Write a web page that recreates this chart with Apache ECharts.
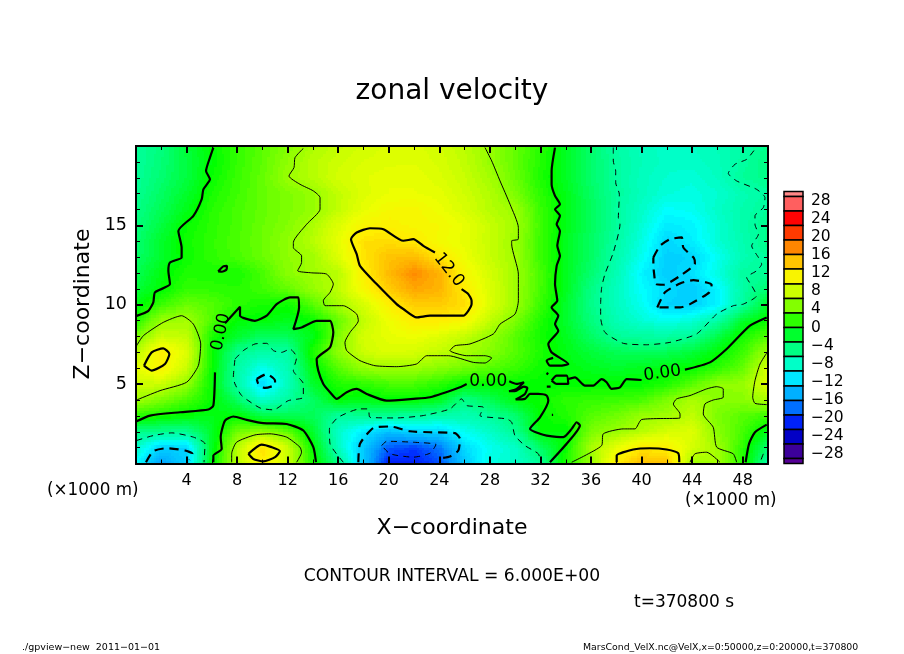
<!DOCTYPE html>
<html>
<head>
<meta charset="utf-8">
<script src="https://cdn.jsdelivr.net/npm/echarts@6/dist/echarts.min.js"></script>
<style>
html, body { margin: 0; padding: 0; background: #ffffff; }
#main { width: 904px; height: 654px; }
</style>
</head>
<body>
<div id="main"></div>
<script>
// velocity, one row per height, x every 2 km
const fieldX = [0, 2, 4, 6, 8, 10, 12, 14, 16, 18, 20, 22, 24, 26, 28, 30, 32, 34, 36, 38, 40, 42, 44, 46, 48, 50];
const fieldZ = [20, 19, 18, 17, 16, 15, 14, 13, 12, 11, 10, 9, 8, 7, 6, 5, 4, 3, 2, 1, 0];
const fieldRows = [
    [-5.8, -4.5, -2, 0, 1.8, 3.2, 4.8, 6.5, 7.6, 8.3, 8.9, 9, 8.3, 7.2, 5.6, 3.5, 1.5, -1.2, -3.7, -6.2, -7.5, -8, -7.8, -7.2, -6.3, -5],
    [-5.8, -4.3, -2.2, -0.2, 1.8, 3.3, 5.3, 7.1, 8.1, 8.8, 9.1, 9.2, 8.6, 7.5, 5.6, 3.5, 1.2, -1.3, -3.7, -6, -7.2, -8, -8, -7.4, -6, -4.8],
    [-5.7, -4, -2.2, 0.2, 2, 3.5, 5.8, 7, 8.4, 9.2, 9.6, 9.6, 8.9, 7.8, 6.2, 3.8, 1, -1.2, -3.8, -5.9, -7.5, -8.3, -8.6, -7.7, -5.7, -5],
    [-5.4, -3.5, -1.5, 0.8, 2.2, 3.5, 4.5, 5.6, 7.5, 9, 9.8, 9.8, 9.5, 8.2, 6.8, 4.5, 1.5, -0.8, -3.5, -5.8, -7.5, -8.7, -9, -8.3, -7, -6],
    [-5, -3, -0.8, 1.3, 2.5, 3.5, 4.5, 5.5, 7.5, 9.6, 10.8, 11, 10, 8.7, 7, 5.8, 2, -0.8, -3.2, -5.9, -8, -10, -9.5, -8, -6.6, -5.7],
    [-4.5, -2.3, 0.2, 1.5, 2.5, 3.7, 4.8, 6.5, 9, 11.2, 11.6, 11, 10.8, 9.7, 7.8, 6.2, 2.2, -0.8, -3.2, -5.8, -8.5, -11, -10.5, -8.5, -6.5, -5.2],
    [-4, -1.5, 0.5, 1.6, 2.7, 3.8, 5.3, 7, 9.5, 12.8, 13, 12.2, 10.5, 9.5, 7.8, 5.8, 2, -1, -3.5, -6.1, -9, -12.1, -10.8, -8.5, -6.8, -5],
    [-3.8, -1.5, 0.4, 1.6, 2.5, 3.7, 5.2, 6, 9, 12.6, 14.5, 15, 12.5, 10, 7.8, 6, 2, -1, -3.5, -6.5, -9.5, -12.5, -12.2, -9.5, -7, -5.6],
    [-3, -0.5, 1, 0.8, 0.7, 2.5, 5, 6, 7, 11.7, 15, 17.5, 15.5, 11, 8.5, 6.1, 2.5, -1, -4, -7, -10.5, -12.7, -11.5, -9, -6, -5.5],
    [-2, -0.2, 1.8, 1.6, 1.3, 2.2, 3.5, 5.5, 7.3, 11, 14, 16.2, 15.5, 12, 8.8, 6, 2.4, -1, -4.8, -7.5, -10, -11.8, -12.8, -10.5, -6.2, -4],
    [-0.8, 2, 3.8, 3, 1.5, 0.7, 0.3, 3, 6.3, 8.5, 11.8, 14, 14, 13, 9, 6, 2, -1.5, -5, -7.5, -9.5, -12.3, -12.5, -10.5, -6, -1.5],
    [1, 5.7, 6.2, 2.8, -0.3, -0.2, -1, 0.3, 3.5, 7.5, 10, 12, 12, 11, 7.5, 4.5, 1, -1.5, -4.5, -7, -8.5, -9.5, -8.5, -6.3, -1.5, 0.3],
    [4.5, 8, 7.5, 0.8, -1.5, -3.5, -3, -0.8, 4.5, 8.5, 9.5, 10, 9, 7.5, 5.5, 3, 0.6, -1, -3.5, -5.5, -6, -6, -5.5, -2.5, 0.7, 3],
    [7, 12, 9, 0.4, -5.4, -6.3, -6.2, 1, 5.2, 8, 9, 8.5, 7.5, 6.3, 5, 3, 1, -0.6, -2, -3, -3.2, -3, -2, -0.3, 2, 6],
    [9.5, 11.5, 7.8, 0.4, -6.2, -9.5, -7, -0.5, 3, 5.5, 6, 5.7, 5, 4, 3, 2, 0.4, -0.3, -1, -1.5, -1, -0.5, 0.2, 1.5, 3.5, 8.5],
    [8, 8, 5.5, 0, -6.2, -12, -7.5, -1.5, 1, 1.5, 2.5, 2.5, 1.5, 0, 0, 0, 0, 0, 0, 0, 0, 1, 3, 5.3, 5.5, 9],
    [6, 4.5, 2.5, 0.2, -3.5, -8, -6, -3.5, -0.2, -0.7, -0.1, -0.1, -1, -5, -3, -0.5, 0.3, 1.5, 1.8, 2, 2.5, 4.5, 6.5, 5, 5, 6.5],
    [1.5, 0.5, -0.3, -0.8, 0, -2.5, -3, -3, -6, -5.5, -5.5, -6, -6.5, -7, -5.8, -4, 0, 1, 3, 4, 5.7, 6, 7.5, 4.5, 3, 2],
    [-4.8, -5.2, -5.2, -1.5, 4, 5.5, 3.5, -1.5, -8, -11, -13.5, -12, -12.2, -9.5, -8, -5.5, 0, -0.3, 4.5, 5.7, 7, 8.5, 9, 5, 2.5, -1],
    [-8, -12.5, -12.2, -1.2, 7, 13, 8, 0.1, -7.5, -13, -18.5, -19.5, -17.5, -11.8, -9.5, -8, -3.5, 0.2, 6.3, 9.5, 12.3, 11.7, 8.5, 6, 1.5, -4],
    [-10, -15.5, -12.5, -0.3, 7, 11.8, 8, 0.8, -5, -13, -21, -21, -19, -13, -9, -8, -5.8, 1, 5.5, 12, 15, 14.5, 5.8, 6.3, 1.5, -6.5]
];

// contour lines as [x km, z km]
const contoursThick = [
    [[6.12, 19.9], [5.85, 19.27], [5.54, 18.43], [5.85, 17.9], [5.33, 17.27], [5.2, 16.65], [4.54, 15.6], [3.35, 14.65], [3.61, 13.6], [3.61, 12.98], [2.69, 12.66], [2.56, 12.14], [2.69, 11.3], [1.5, 10.78], [1.37, 10.15], [0.98, 9.62], [0.05, 9.3]],
    [[6.5, 12.1], [6.9, 12.42], [7.2, 12.45], [7.15, 12.2], [6.8, 12.08], [6.5, 12.1]],
    [[0.05, 2.66], [1.11, 3.02], [3.48, 3.23], [5.72, 3.4], [6.12, 3.65], [6.25, 5.74]],
    [[7.04, 8.83], [8.23, 9.87], [8.23, 9.31], [9.41, 8.99], [10.34, 9.31], [11.13, 10.04], [12.18, 10.46], [12.84, 10.46], [12.9, 9.83], [12.45, 8.47], [13.1, 8.57], [14.29, 8.99], [15.35, 8.99], [15.61, 8.26], [15.35, 7.32], [14.29, 6.58], [14.42, 5.85], [14.82, 5.01], [15.35, 4.49], [15.88, 4.07], [16.67, 4.49], [17.46, 4.7], [18.25, 4.38], [19.83, 3.96], [21.94, 4.07], [23.26, 4.17], [25.63, 4.8], [26.16, 5.01]],
    [[29.53, 5.18], [30.11, 5.01], [30.69, 5.12], [30.11, 4.7], [29.51, 4.55], [29.98, 4.55], [30.69, 4.84], [30.96, 4.76], [30.77, 4.38], [30.04, 4.03], [30.77, 4.07], [31.17, 4.38], [31.83, 4.38], [32.49, 4.28], [32.62, 3.96], [31.96, 2.91], [31.17, 2.18], [31.96, 1.87], [32.49, 1.76], [33.81, 1.66], [34.47, 2.18], [34.86, 2.6], [35.12, 2.39], [34.07, 1.24], [32.75, 0.08]],
    [[33.15, 19.9], [32.88, 18.43], [32.88, 17.59], [33.15, 16.86], [33.54, 16.33], [33.15, 16.02], [33.54, 15.6], [33.28, 15.07], [33.54, 14.65], [33.33, 13.71], [33.54, 13.08], [33.28, 12.45], [33.15, 11.3], [33.33, 10.25], [32.88, 9.83], [33.41, 9.31], [33.15, 8.78], [33.41, 8.36], [32.62, 7.53], [32.88, 7], [34.2, 6.27], [33.54, 6.16], [32.75, 6.16], [32.49, 6.48], [33, 6.65]],
    [[32.88, 5.22], [33.28, 5.53], [34.07, 5.53], [34.2, 5.01], [33.28, 5.01], [32.88, 5.22]],
    [[34.2, 5.32], [34.73, 5.43], [35.52, 4.91], [36.18, 4.91], [36.84, 5.32], [37.23, 5.12], [37.63, 4.7], [38.29, 4.8], [38.82, 5.32], [40, 5.26]],
    [[43.43, 5.91], [45.41, 6.37], [46.73, 7.21], [48.57, 8.68], [49.9, 9.2]],
    [[32.49, 5.6], [32.6, 5.72]],
    [[32.5, 4.84], [32.8, 4.84]],
    [[32.9, 3.06], [33, 3.06]],
    [[23.65, 13.29], [22.73, 13.71], [21.94, 14.13], [21.15, 14.03], [19.57, 14.76], [18.51, 14.82], [17.46, 14.55], [17.01, 14.13], [17.46, 13.19], [17.72, 12.45], [19.04, 11.3], [20.62, 10.04], [21.15, 9.73], [22.2, 9.2], [23.26, 9.31], [24.84, 9.31], [25.89, 9.31], [26.55, 10.04], [26.55, 10.25], [26.29, 10.67], [25.76, 10.98]],
    [[0.63, 6.16], [1.24, 7], [2.16, 7.25], [2.64, 6.9], [2.29, 6.27], [1.24, 5.85], [0.63, 6.16]],
    [[6.12, 0.08], [6.12, 0.5], [6.78, 0.92], [6.7, 1.66], [7.04, 2.7], [7.7, 2.96], [8.76, 2.75], [10.07, 2.54], [11.92, 2.49], [13.24, 2.08], [14.03, 1.03], [14.24, 0.08]],
    [[8.89, 0.61], [9.94, 1.19], [10.73, 1.03], [11.39, 0.78], [11, 0.4], [10.07, 0.13], [9.28, 0.29], [8.89, 0.61]],
    [[38.03, 0.08], [38.03, 0.5], [39.34, 0.88], [40.66, 0.96], [41.98, 0.88], [42.9, 0.65], [42.98, 0.08]],
    [[49.9, 2.45], [48.97, 1.97], [48.5, 1.24], [48.23, 0.08]]
];
const contoursThin = [
    [[13.24, 19.85], [12.58, 19.27], [12.5, 18.64], [12.1, 18.11], [12.97, 17.59], [14.03, 17.17], [14.56, 16.75], [14.56, 16.02], [13.5, 15.07], [12.45, 13.92], [12.45, 13.6], [13.1, 13.08], [13.1, 12.66], [12.79, 12.14], [13.9, 12.01], [15.08, 11.93], [15.61, 11.3], [15.35, 10.78], [14.82, 10.25], [14.95, 9.94], [16.4, 9.94], [17.46, 9.41], [17.59, 8.99], [16.93, 8.26], [16.53, 7.63], [16.67, 7.11], [17.72, 6.48], [18.91, 6.16], [20.62, 6.1], [22.2, 6.27], [23, 6.79], [24.71, 6.79], [26.69, 6.37], [27.61, 6.33], [28.14, 6.65], [27.61, 6.79], [26.16, 6.79], [24.84, 7.11], [25.24, 7.42], [26.42, 7.53], [28.27, 8.16], [28.8, 8.78], [29.98, 9.41], [30.25, 10.25], [30.25, 11.93], [29.72, 13.82], [29.72, 14.03], [30.25, 14.13], [30.25, 14.86], [29.59, 16.33], [28.8, 17.8], [28.14, 19.06], [27.61, 19.9]],
    [[0.05, 4], [1.9, 4.59], [4.01, 5.12], [4.93, 6.16], [5.12, 7.53], [4.54, 8.78], [3.61, 9.31], [2.16, 8.89], [0.58, 8.05], [0.05, 7.42]],
    [[7.57, 0.08], [7.57, 0.61], [7.96, 1.34], [9.41, 1.8], [10.6, 1.87], [11.92, 1.66], [12.97, 1.03], [13.1, 0.71], [12.71, 0.08]],
    [[34.47, 0.08], [35.52, 0.5], [36.84, 1.13], [36.97, 1.87], [38.55, 2.18], [39.48, 2.18], [40, 2.77], [43.04, 2.87], [43.04, 3.12], [42.51, 3.75], [42.77, 4.07], [43.83, 4.28], [45.15, 4.7], [45.94, 4.84], [46.46, 4.7], [46.46, 4.17], [45.67, 4], [45.01, 3.75], [44.88, 3.12], [45.67, 2.28], [45.94, 1.03], [47.25, 0.61], [47.52, 0.08]],
    [[43.83, 0.08], [44.22, 0.61], [45.15, 0.71], [46.2, 0.08]],
    [[49.9, 6.96], [49.37, 6.27], [48.97, 5.22], [48.79, 4.17], [48.97, 3.79], [49.9, 3.71]]
];
const contoursThickDash = [
    [[9.55, 5.32], [10.34, 5.64], [11, 5.22], [11, 4.97], [10.21, 4.76], [9.68, 5.01], [9.55, 5.32]],
    [[0.79, 0.08], [1.37, 0.78], [2.43, 0.96], [3.88, 0.82], [4.46, 0.61], [4.22, 0.23]],
    [[17.59, 0.08], [17.72, 1.24], [18.78, 2.24], [20.1, 2.33], [21.68, 2.03], [23.26, 1.97], [25.24, 1.91], [25.63, 1.55], [25.5, 0.82], [24.84, 0.44], [24.3, 0.35]],
    [[40.93, 12.98], [41.45, 13.71], [42.24, 14.13], [43.17, 14.24], [43.3, 13.61], [44.14, 12.94], [44.22, 12.6], [43.04, 11.82], [41.72, 11.26], [41.14, 11.3], [40.98, 12.03], [40.93, 12.56], [40.93, 12.98]],
    [[41.24, 9.83], [41.85, 10.78], [43.04, 11.34], [44.09, 11.55], [45.54, 11.26], [45.36, 10.78], [43.83, 10.04], [43.04, 9.83], [41.24, 9.83]]
];
const contoursThinDash = [
    [[7.83, 6.58], [8.49, 7.11], [9.41, 7.53], [10.34, 7.57], [10.87, 7.11], [11.52, 7], [12.18, 7.21], [12.71, 6.69], [12.45, 5.85], [13.24, 5.01], [13.24, 4.17], [12.05, 3.96], [10.87, 3.38], [9.81, 3.5], [8.36, 4.28], [7.83, 5.01], [7.7, 5.43], [7.83, 6.58]],
    [[0.05, 1.45], [1.37, 1.76], [2.82, 1.93], [4.54, 1.66], [5.46, 1.24], [5.38, 0.08]],
    [[16.4, 0.08], [15.35, 1.24], [15.3, 2.18], [16, 2.91], [17.72, 3.44], [18.38, 3.44], [18.51, 2.91], [20.62, 2.87], [22.73, 3.02], [24.84, 3.44], [25.76, 4.07], [26.16, 3.65], [27.48, 3.54], [27.21, 3.02], [29.32, 2.81], [29.72, 2.6], [29.98, 1.76], [30.77, 1.13], [31.83, 0.61], [32.01, 0.08]],
    [[19.44, 1.13], [19.83, 1.4], [21.94, 1.34], [23.73, 1.19], [23.26, 0.65], [21.94, 0.4], [20.1, 0.61], [19.44, 1.13]],
    [[37.76, 19.9], [37.76, 19.06], [37.95, 18.43], [37.95, 17.69], [38.24, 16.96], [38.16, 15.49], [38.29, 15.07], [37.76, 13.29], [37.1, 11.93], [36.84, 11.09], [36.76, 10.04], [36.76, 9.2], [37.1, 8.26], [38.55, 7.57], [40.4, 7.48], [42.24, 7.63], [44.35, 8.16], [45.94, 9.41], [47.26, 9.94], [48.05, 10.04], [49.1, 10.57], [48.71, 11.2], [48.31, 11.72], [49.1, 12.14], [49.5, 12.56], [49.24, 12.98], [48.71, 13.71], [49.24, 14.44], [48.97, 15.07], [48.97, 15.6], [49.63, 16.12], [49.76, 16.75], [49.1, 17.27], [47.52, 17.8], [46.86, 18.28], [47.39, 18.85], [48.31, 19.16], [48.97, 19.8]],
    [[49.63, 0.61], [49.37, 0.08]]
];
// text, x km, z km, angle in degrees
const contourLabels = [
    ['0.00', 6.72, 8.28, 78],
    ['0.00', 27.87, 5.15, 0],
    ['0.00', 41.64, 5.68, 8],
    ['12.0', 24.76, 12.2, -52]
];

const xMajorTicks = [4, 8, 12, 16, 20, 24, 28, 32, 36, 40, 44, 48];
const xMinorTicks = [2, 6, 10, 14, 18, 22, 26, 30, 34, 38, 42, 46];
const zMajorTicks = [5, 10, 15];
const zMinorTicks = [1, 2, 3, 4, 6, 7, 8, 9, 11, 12, 13, 14, 16, 17, 18, 19];

const colorBarEdges = [30, 28.9, 25.7, 22.5, 19.3, 16.1, 12.9, 9.6, 6.4, 3.2, 0, -3.2, -6.4, -9.6, -12.9, -16.1, -19.3, -22.5, -25.7, -28.9, -30];
const colorBarLabels = [28, 24, 20, 16, 12, 8, 4, 0, -4, -8, -12, -16, -20, -24, -28];
// colours for -30, -28 ... 30
const ramp = ['#5a0096', '#460096', '#2a00a0', '#0000c8', '#0010f0', '#0030ff', '#0068ff', '#0098ff', '#00b8ff', '#00d8ff', '#00ffff',
    '#00ffc8', '#00ffa0', '#00ff70', '#00ff38', '#00ff00', '#38ff00', '#70ff00', '#a0ff00', '#ccff00', '#eeff00',
    '#ffee00', '#ffcc00', '#ffaa00', '#ff8000', '#ff5000', '#ff2000', '#ff0000', '#ff4040', '#ff7070', '#ff9090'];

function rampColor(v) {
    return echarts.color.lerp((v + 30) / 60, ramp);
}

let fieldCells = [];
for (let j = 0; j < fieldZ.length - 1; j++) {
    for (let i = 0; i < fieldX.length - 1; i++) {
        fieldCells.push([fieldX[i], fieldZ[j], fieldX[i + 1], fieldZ[j + 1],
            fieldRows[j][i], fieldRows[j][i + 1], fieldRows[j + 1][i], fieldRows[j + 1][i + 1]]);
    }
}

// shade one grid cell in small steps between its four corner values
function renderCell(params, api) {
    const d = fieldCells[params.dataIndex];
    const p0 = api.coord([d[0], d[1]]);
    const p1 = api.coord([d[2], d[3]]);
    const nx = 10, ny = 6;
    let children = [];
    for (let b = 0; b < ny; b++) {
        const t = (b + 0.5) / ny;
        const y0 = Math.round(p0[1] + (p1[1] - p0[1]) * b / ny);
        const y1 = Math.round(p0[1] + (p1[1] - p0[1]) * (b + 1) / ny);
        for (let a = 0; a < nx; a++) {
            const s = (a + 0.5) / nx;
            const x0 = Math.round(p0[0] + (p1[0] - p0[0]) * a / nx);
            const x1 = Math.round(p0[0] + (p1[0] - p0[0]) * (a + 1) / nx);
            const top = d[4] + (d[5] - d[4]) * s;
            const bot = d[6] + (d[7] - d[6]) * s;
            const v = Math.round((top + (bot - top) * t) * 2) / 2;
            children.push({
                type: 'rect',
                shape: { x: x0, y: y0, width: x1 - x0, height: y1 - y0 },
                style: { fill: rampColor(v) },
                silent: true
            });
        }
    }
    return { type: 'group', children: children };
}

function contourSeries(lines, width, dash) {
    return lines.map(line => ({
        type: 'line',
        data: line,
        symbol: 'none',
        smooth: 0.2,
        silent: true,
        animation: false,
        z: 4,
        lineStyle: { color: '#000000', width: width, type: dash },
        emphasis: { disabled: true }
    }));
}

function tickAxis(position, isX, values, length, labels) {
    return {
        type: 'value',
        gridIndex: 0,
        position: position,
        min: 0,
        max: isX ? 50 : 20,
        z: 6,
        splitLine: { show: false },
        axisLine: { show: true, onZero: false, lineStyle: { color: '#000000', width: 2 } },
        axisTick: { show: true, inside: true, customValues: values, length: length, lineStyle: { color: '#000000', width: length > 5 ? 2 : 1 } },
        axisLabel: labels ? {
            show: true, customValues: values, margin: 9, color: '#000000',
            fontFamily: 'DejaVu Sans', fontSize: isX ? 16 : 17.5
        } : { show: false }
    };
}

function label(text, x, y, size, align, rotation) {
    return {
        type: 'text', x: x, y: y, rotation: rotation || 0, silent: true,
        style: {
            text: text, fill: '#000000', font: size + 'px "DejaVu Sans"',
            textAlign: align, textVerticalAlign: 'middle', align: align, verticalAlign: 'middle'
        }
    };
}

const chart = echarts.init(document.getElementById('main'), null, { renderer: 'canvas' });

chart.setOption({
    animation: false,
    backgroundColor: '#ffffff',
    grid: [
        { left: 136, top: 146, width: 632, height: 317.5 },
        { left: 784, top: 191.5, width: 19, height: 272 }
    ],
    xAxis: [
        tickAxis('bottom', true, xMajorTicks, 7, true),
        tickAxis('top', true, xMajorTicks, 7, false),
        tickAxis('bottom', true, xMinorTicks, 4, false),
        tickAxis('top', true, xMinorTicks, 4, false),
        { type: 'value', gridIndex: 1, min: 0, max: 1, show: false }
    ],
    yAxis: [
        tickAxis('left', false, zMajorTicks, 7, true),
        tickAxis('right', false, zMajorTicks, 7, false),
        tickAxis('left', false, zMinorTicks, 4, false),
        tickAxis('right', false, zMinorTicks, 4, false),
        {
            type: 'value', gridIndex: 1, position: 'right', min: -30, max: 30,
            splitLine: { show: false },
            axisLine: { show: false },
            axisTick: { show: false },
            axisLabel: {
                customValues: colorBarLabels, margin: 8, color: '#000000',
                fontFamily: 'DejaVu Sans', fontSize: 15.5,
                formatter: v => String(v).replace('-', '\u2212')
            }
        }
    ],
    series: [
        {
            type: 'custom',
            xAxisIndex: 0,
            yAxisIndex: 0,
            z: 2,
            silent: true,
            clip: true,
            encode: { x: [0, 2], y: [1, 3] },
            data: fieldCells,
            renderItem: renderCell
        },
        ...contourSeries(contoursThick, 2.2, 'solid'),
        ...contourSeries(contoursThin, 1, 'solid'),
        ...contourSeries(contoursThickDash, 2.2, [9, 6]),
        ...contourSeries(contoursThinDash, 1, [6, 5]),
        {
            type: 'custom',
            xAxisIndex: 0,
            yAxisIndex: 0,
            z: 5,
            silent: true,
            encode: { x: 1, y: 2 },
            data: contourLabels.map(l => [l[0], l[1], l[2], l[3]]),
            renderItem: function (params, api) {
                const l = contourLabels[params.dataIndex];
                const p = api.coord([l[1], l[2]]);
                return {
                    type: 'text', x: p[0], y: p[1], rotation: l[3] * Math.PI / 180,
                    style: {
                        text: l[0], fill: '#000000', font: '17px "DejaVu Sans"',
                        textAlign: 'center', textVerticalAlign: 'middle', align: 'center', verticalAlign: 'middle'
                    }
                };
            }
        },
        {
            type: 'custom',
            xAxisIndex: 4,
            yAxisIndex: 4,
            silent: true,
            encode: { y: 0 },
            data: colorBarEdges.slice(1).map((e, i) => [colorBarEdges[i], e]),
            renderItem: function (params, api) {
                const hi = api.value(0), lo = api.value(1);
                const a = api.coord([0, hi]);
                const b = api.coord([1, lo]);
                return {
                    type: 'rect',
                    shape: { x: a[0], y: a[1], width: b[0] - a[0], height: b[1] - a[1] },
                    style: { fill: rampColor((hi + lo) / 2), stroke: '#000000', lineWidth: 1.5 }
                };
            }
        }
    ],
    graphic: [
        label('zonal velocity', 452, 92, 28, 'center'),
        label('Z\u2212coordinate', 83, 304, 22, 'center', Math.PI / 2),
        label('X\u2212coordinate', 452, 528, 22, 'center'),
        label('(\u00d71000 m)', 47, 491, 16.8, 'left'),
        label('(\u00d71000 m)', 685, 501, 16.8, 'left'),
        label('CONTOUR INTERVAL = 6.000E+00', 452, 577, 17.2, 'center'),
        label('t=370800 s', 634, 603, 17, 'left'),
        label('./gpview\u2212new  2011\u221201\u221201', 22, 648, 9.5, 'left'),
        label('MarsCond_VelX.nc@VelX,x=0:50000,z=0:20000,t=370800', 583, 648, 9.35, 'left')
    ]
});
</script>
</body>
</html>
